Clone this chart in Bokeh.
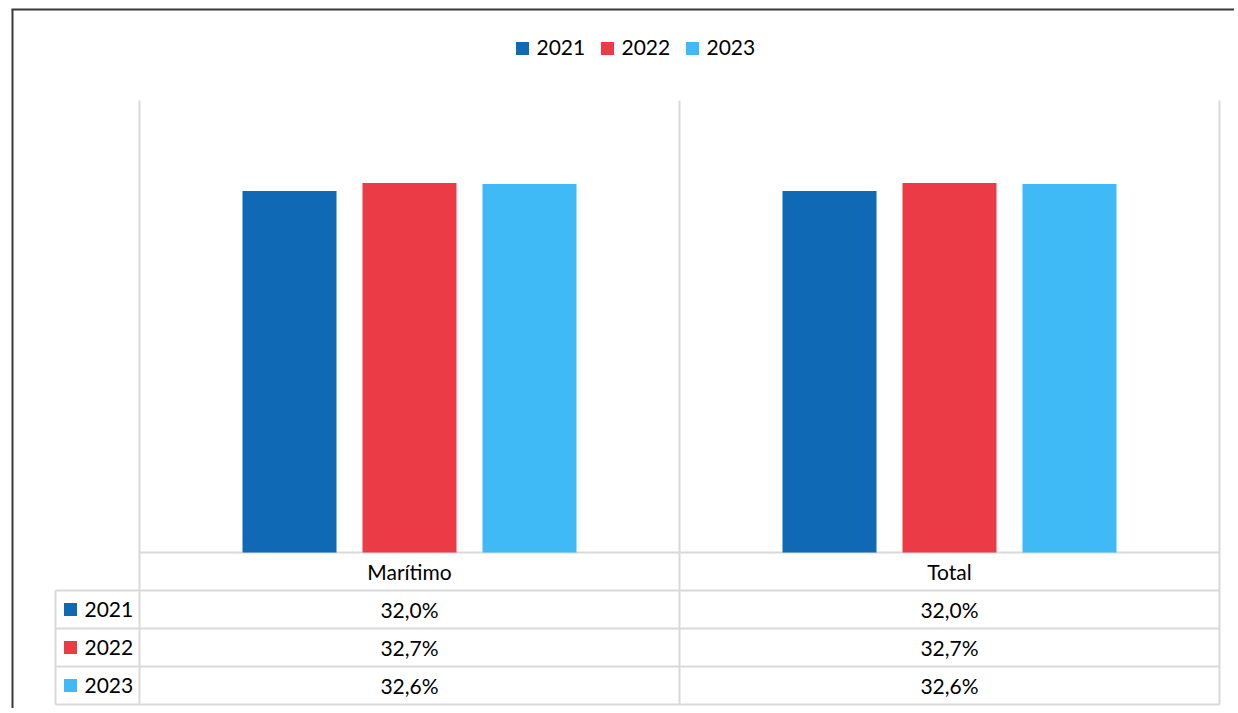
from bokeh.plotting import figure
from bokeh.models import Range1d, ColumnDataSource
from bokeh.core.properties import value
from bokeh.embed import file_html
from bokeh.resources import INLINE

# ---------------- data ----------------
categories = ["Marítimo", "Total"]
years = ["2021", "2022", "2023"]
values_2021 = [32.0, 32.0]
values_2022 = [32.7, 32.7]
values_2023 = [32.6, 32.6]
series = [values_2021, values_2022, values_2023]
colors = ["#1069B4", "#EB3B47", "#3FBAF6"]
y_max = 40

# ---------------- layout (page pixels) ----------------
W, H = 1234, 708
LEFT0, TOP0 = 0, 0
PLOT_L, PLOT_R, PLOT_T, PLOT_B = 139, 1219, 100, 552
CAT_W = (PLOT_R - PLOT_L) / len(categories)
PPV = (PLOT_B - PLOT_T) / y_max
ROW_H = 38
TABLE_L = 55
BAR_STEP = 120
BAR_W = 94
FONT = value("Lato")
FS = "21px"
GRID = "#D9D9D9"
FRAME = "#3A3A3A"


def X(px):
    return (px - PLOT_L) / CAT_W


def Y(py):
    return (PLOT_B - py) / PPV


p = figure(width=W, height=H,
           x_range=Range1d(X(LEFT0), X(LEFT0 + W)),
           y_range=Range1d(Y(TOP0 + H), Y(TOP0)),
           min_border=0, x_axis_type=None, y_axis_type=None,
           toolbar_location=None, output_backend="svg",
           outline_line_color=None, background_fill_color="white",
           border_fill_color="white")

# outer frame (top and left edges visible)
p.segment(x0=[X(11), X(12)], y0=[Y(9), Y(9)], x1=[X(LEFT0 + W), X(12)],
          y1=[Y(9), Y(TOP0 + H)], line_color=FRAME, line_width=2)

n_rows = len(years)
table_bottom = PLOT_B + ROW_H * (n_rows + 1)

# vertical grid lines (category boundaries, through the table)
xs_grid = [X(PLOT_L + CAT_W * k) for k in range(len(categories) + 1)]
p.segment(x0=xs_grid, y0=[Y(PLOT_T)] * len(xs_grid), x1=xs_grid,
          y1=[Y(table_bottom)] * len(xs_grid), line_color=GRID, line_width=2)
# axis line + header bottom line
p.segment(x0=[X(PLOT_L)], y0=[0], x1=[X(PLOT_R)], y1=[0], line_color=GRID, line_width=2)
row_lines = [PLOT_B + ROW_H * (k + 1) for k in range(n_rows + 1)]
p.segment(x0=[X(TABLE_L)] * len(row_lines), y0=[Y(r) for r in row_lines],
          x1=[X(PLOT_R)] * len(row_lines), y1=[Y(r) for r in row_lines],
          line_color=GRID, line_width=2)
p.segment(x0=[X(TABLE_L)], y0=[Y(PLOT_B + ROW_H)], x1=[X(TABLE_L)],
          y1=[Y(table_bottom)], line_color=GRID, line_width=2)

# bars
offsets = [(i - 1) * BAR_STEP / CAT_W for i in range(len(years))]
for i, (yr, vals, col) in enumerate(zip(years, series, colors)):
    src = ColumnDataSource(dict(x=[c + 0.5 + offsets[i] for c in range(len(categories))],
                                top=vals))
    p.vbar(x="x", top="top", bottom=0, width=BAR_W / CAT_W, source=src,
           fill_color=col, line_color=None)

# header row
p.text(x=[c + 0.5 for c in range(len(categories))],
       y=[Y(PLOT_B + ROW_H / 2)] * len(categories), text=categories,
       text_font=FONT, text_font_size=FS, text_align="center",
       text_baseline="middle", text_color="#000000")

# data rows
for i, (yr, vals, col) in enumerate(zip(years, series, colors)):
    yc = Y(PLOT_B + ROW_H * (i + 1) + ROW_H / 2)
    labels = [f"{v:.1f}".replace(".", ",") + "%" for v in vals]
    p.text(x=[c + 0.5 for c in range(len(categories))], y=[yc] * len(categories),
           text=labels, text_font=FONT, text_font_size=FS, text_align="center",
           text_baseline="middle", text_color="#000000")
    p.rect(x=[X(70)], y=[yc], width=13, height=13, width_units="screen",
           height_units="screen", fill_color=col, line_color=None)
    p.text(x=[X(84)], y=[yc], text=[yr], text_font=FONT, text_font_size=FS,
           text_align="left", text_baseline="middle", text_color="#000000")

# top legend
leg_sq = [522, 607, 692]
for i, (yr, col) in enumerate(zip(years, colors)):
    p.rect(x=[X(leg_sq[i])], y=[Y(48)], width=13, height=13, width_units="screen",
           height_units="screen", fill_color=col, line_color=None)
    p.text(x=[X(leg_sq[i] + 14)], y=[Y(47)], text=[yr], text_font=FONT,
           text_font_size=FS, text_align="left", text_baseline="middle",
           text_color="#000000")

open("out.html", "w").write(file_html(p, INLINE))
